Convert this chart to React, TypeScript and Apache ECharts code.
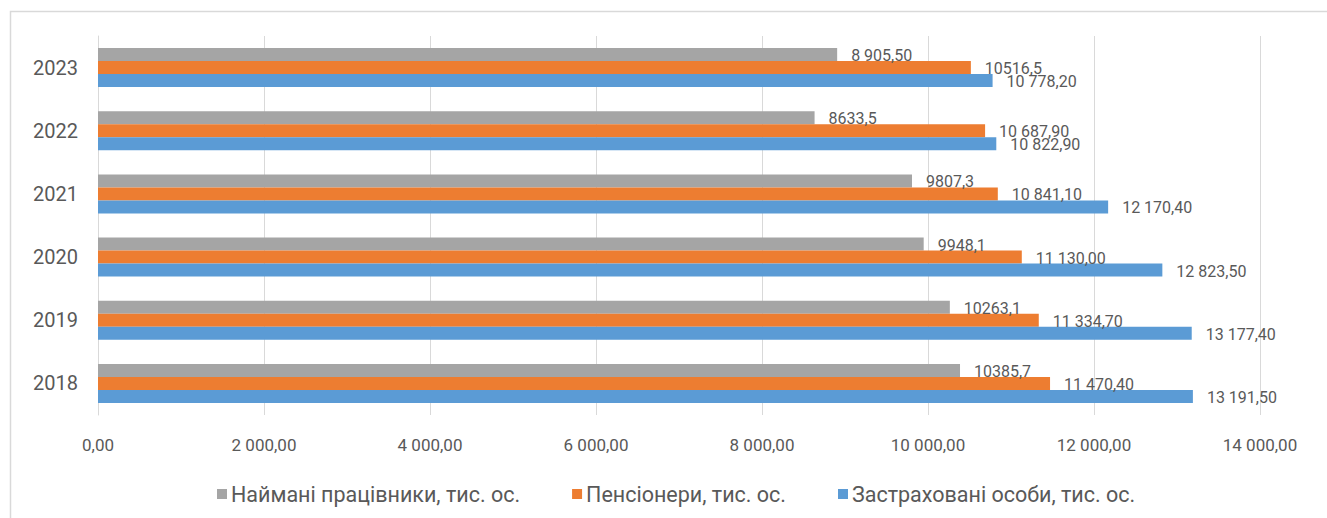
import React, { useEffect, useRef } from "react";
import * as echarts from "echarts";

const years = ["2018", "2019", "2020", "2021", "2022", "2023"];

const employees = [10385.7, 10263.1, 9948.1, 9807.3, 8633.5, 8905.5];
const pensioners = [11470.4, 11334.7, 11130.0, 10841.1, 10687.9, 10516.5];
const insured = [13191.5, 13177.4, 12823.5, 12170.4, 10822.9, 10778.2];

const employeesLabels = ["10385,7", "10263,1", "9948,1", "9807,3", "8633,5", "8 905,50"];
const pensionersLabels = ["11 470,40", "11 334,70", "11 130,00", "10 841,10", "10 687,90", "10516,5"];
const insuredLabels = ["13 191,50", "13 177,40", "12 823,50", "12 170,40", "10 822,90", "10 778,20"];

const xTicks = [0, 2000, 4000, 6000, 8000, 10000, 12000, 14000];
const xTickLabels = ["0,00", "2 000,00", "4 000,00", "6 000,00", "8 000,00", "10 000,00", "12 000,00", "14 000,00"];

const seriesNames = [
  "Наймані працівники, тис. ос.",
  "Пенсіонери, тис. ос.",
  "Застраховані особи, тис. ос.",
];

const FONT = "Roboto, 'Open Sans', sans-serif";
const TEXT = "#595959";

export default function App() {
  const ref = useRef<HTMLDivElement>(null);
  useEffect(() => {
    document.body.style.margin = "0";
    if (!ref.current) return;
    const chart = echarts.init(ref.current, undefined, { renderer: "svg" });
    const mk = (name: string, data: number[], labels: string[], color: string) => ({
      name,
      type: "bar",
      data,
      barWidth: 13,
      barGap: "0%",
      itemStyle: { color },
      label: {
        show: true,
        position: "right",
        distance: 14,
        offset: [0, 1],
        color: TEXT,
        fontFamily: FONT,
        fontSize: 16,
        formatter: (p: any) => labels[p.dataIndex],
      },
    });
    chart.setOption({
      animation: false,
      textStyle: { fontFamily: FONT },
      graphic: [
        {
          type: "rect",
          shape: { x: 10.5, y: 11.5, width: 1340, height: 540 },
          style: { fill: "none", stroke: "#d9d9d9", lineWidth: 1.5 },
          silent: true,
        },
      ],
      grid: { left: 98, right: 67, top: 36, bottom: 103, containLabel: false },
      legend: {
        top: 478,
        left: 212,
        itemWidth: 10,
        itemHeight: 10,
        itemGap: 52,
        itemStyle: { borderWidth: 0 },
        icon: "rect",
        textStyle: { color: TEXT, fontSize: 21.5, fontFamily: FONT, padding: [0, 0, 0, -1] },
        data: seriesNames,
      },
      xAxis: {
        type: "value",
        min: 0,
        max: 14000,
        interval: 2000,
        axisLine: { show: false },
        axisTick: { show: false },
        splitLine: { show: true, lineStyle: { color: "#d9d9d9", width: 1 } },
        axisLabel: {
          color: TEXT,
          fontSize: 17,
          fontFamily: FONT,
          margin: 21,
          formatter: (v: number) => {
            const i = xTicks.indexOf(v);
            return i >= 0 ? xTickLabels[i] : "";
          },
        },
      },
      yAxis: {
        type: "category",
        data: years,
        axisLine: { show: true, lineStyle: { color: "#d9d9d9" } },
        axisTick: { show: false },
        axisLabel: { color: TEXT, fontSize: 20, fontFamily: FONT, margin: 20 },
      },
      series: [
        mk(seriesNames[0], employees, employeesLabels, "#A5A5A5"),
        mk(seriesNames[1], pensioners, pensionersLabels, "#ED7D31"),
        mk(seriesNames[2], insured, insuredLabels, "#5B9BD5"),
      ],
    });
    return () => chart.dispose();
  }, []);
  return <div ref={ref} style={{ width: 1327, height: 518 }} />;
}
